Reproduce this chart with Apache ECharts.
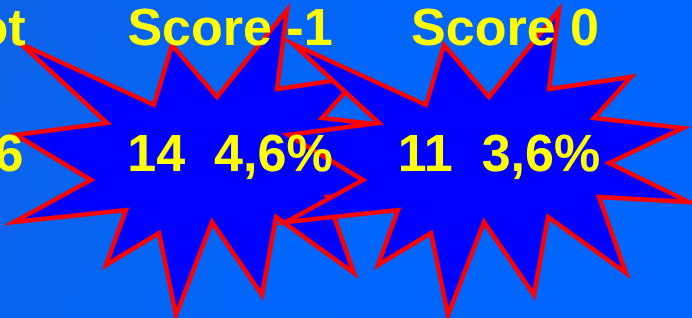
<!DOCTYPE html>
<html>
<head>
<meta charset="utf-8">
<script src="https://cdn.jsdelivr.net/npm/echarts@6/dist/echarts.min.js"></script>
<style>
  html, body { margin: 0; padding: 0; }
  #chart { width: 692px; height: 318px; }
</style>
</head>
<body>
<div id="chart"></div>
<script>
// kolommen
var categories = ['Tot', 'Score -1', 'Score 0'];
var counts = [306, 14, 11];
var percents = ['', '4,6%', '3,6%'];
var starred = [false, true, true];

// layout
var colStep = 272;      // px tussen kolommen
var firstPx = 230;      // x van kolom 1
var headerTop = 5;
var valueTop = 131;
var headerShift = [29, 0, 3];
var valueShift = [22, 0, -3];

// ster (offset t.o.v. kolommidden, y absoluut)
var starShape = [
  [57, 10], [47, 89], [129, 77], [92, 118], [181, 128], [107, 163],
  [187, 202], [97, 197], [124, 273], [46, 217], [32, 295], [-18, 222],
  [-54, 315], [-71, 233], [-124, 265], [-104, 210], [-216, 222], [-139, 180],
  [-214, 135], [-123, 123], [-209, 44], [-76, 105], [-58, 45], [-13, 97]
];

var font = '"Liberation Sans", Arial, sans-serif';
var xMin = 1 - firstPx / colStep;
var xMax = xMin + 692 / colStep;

var chart = echarts.init(document.getElementById('chart'));

var idx = categories.map(function (c, i) { return [i, 0]; });

var option = {
  backgroundColor: {
    type: 'linear', x: 0, y: 0, x2: 1, y2: 1,
    colorStops: [{ offset: 0, color: '#0d63e8' }, { offset: 0.5, color: '#0066fc' }, { offset: 1, color: '#0066ff' }]
  },
  animation: false,
  grid: { left: 0, right: 0, top: 0, bottom: 0 },
  xAxis: { type: 'value', min: xMin, max: xMax, show: false },
  yAxis: { type: 'value', min: 0, max: 1, show: false },
  series: [
    {
      type: 'custom',
      data: idx,
      z: 1,
      renderItem: function (params, api) {
        var i = params.dataIndex;
        if (!starred[i]) return null;
        var cx = api.coord([api.value(0), 0])[0];
        return {
          type: 'polygon',
          shape: { points: starShape.map(function (p) { return [cx + p[0], p[1]]; }) },
          style: { fill: '#0000ff', stroke: '#ff0000', lineWidth: 4.5, lineJoin: 'miter', miterLimit: 20 }
        };
      }
    },
    {
      type: 'custom',
      data: idx,
      z: 2,
      renderItem: function (params, api) {
        var i = params.dataIndex;
        var cx = api.coord([api.value(0), 0])[0];
        var txt = String(counts[i]) + (percents[i] ? '  ' + percents[i] : '');
        var base = { fill: '#ffff00', font: 'bold 52px ' + font, align: 'center', verticalAlign: 'top' };
        return {
          type: 'group',
          children: [
            { type: 'text', style: Object.assign({ text: categories[i], x: cx + headerShift[i], y: headerTop }, base) },
            { type: 'text', style: Object.assign({ text: txt, x: cx + valueShift[i], y: valueTop }, base) }
          ]
        };
      }
    }
  ]
};

chart.setOption(option);
</script>
</body>
</html>
